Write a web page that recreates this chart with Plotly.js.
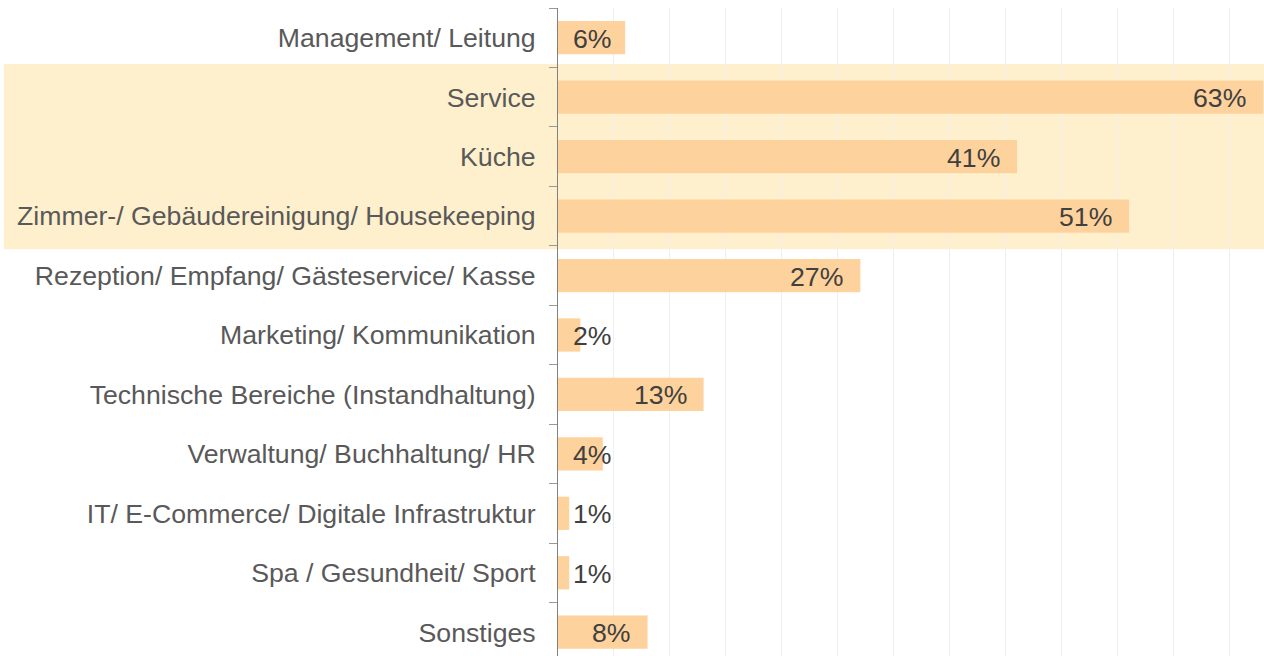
<!DOCTYPE html>
<html>
<head>
<meta charset="utf-8">
<script src="https://cdn.plot.ly/plotly-3.0.1.min.js"></script>
<style>html,body{margin:0;padding:0;background:#fff;}#chart{width:1264px;height:656px;}</style>
</head>
<body>
<div id="chart"></div>
<script>
const categories = [
  "Management/ Leitung",
  "Service",
  "Küche",
  "Zimmer-/ Gebäudereinigung/ Housekeeping",
  "Rezeption/ Empfang/ Gästeservice/ Kasse",
  "Marketing/ Kommunikation",
  "Technische Bereiche (Instandhaltung)",
  "Verwaltung/ Buchhaltung/ HR",
  "IT/ E-Commerce/ Digitale Infrastruktur",
  "Spa / Gesundheit/ Sport",
  "Sonstiges"
];
const values = [6, 63, 41, 51, 27, 2, 13, 4, 1, 1, 8];
const valueLabels = ["6%", "63%", "41%", "51%", "27%", "2%", "13%", "4%", "1%", "1%", "8%"];
const highlighted = ["Service", "Küche", "Zimmer-/ Gebäudereinigung/ Housekeeping"];

const font = "'Liberation Sans', Arial, sans-serif";
const minLabelX = 6.3;

const trace = {
  type: "bar",
  orientation: "h",
  y: categories,
  x: values,
  marker: {color: "#FED29C"},
  hoverinfo: "none"
};

const idx = highlighted.map(c => categories.indexOf(c));
const hiStart = Math.min(...idx), hiEnd = Math.max(...idx);

const annotations = values.map((v, i) => ({
  xref: "x", yref: "y",
  x: Math.max(v, minLabelX),
  y: categories[i],
  text: valueLabels[i],
  showarrow: false,
  xanchor: "right",
  xshift: -15,
  yshift: -1,
  font: {family: font, size: 26.67, color: "#404040"}
}));

const layout = {
  width: 1264, height: 656,
  margin: {l: 558, r: 0, t: 8, b: 0, pad: 0},
  paper_bgcolor: "#ffffff",
  plot_bgcolor: "rgba(0,0,0,0)",
  showlegend: false,
  bargap: 0.44,
  xaxis: {
    range: [0, 63.05],
    dtick: 5,
    showgrid: true,
    gridcolor: "#EFEFEF",
    gridwidth: 1,
    zeroline: false,
    showticklabels: false,
    ticks: "",
    showline: false,
    fixedrange: true
  },
  yaxis: {
    type: "category",
    range: [10.4, -0.5],
    showline: true,
    linecolor: "#808080",
    linewidth: 1,
    ticks: "outside",
    tickson: "boundaries",
    ticklen: 8,
    tickcolor: "#999999",
    tickwidth: 1,
    showgrid: false,
    zeroline: false,
    ticklabelstandoff: 16,
    tickfont: {family: font, size: 26.67, color: "#595959"},
    fixedrange: true
  },
  shapes: [{
    type: "rect",
    xref: "paper", yref: "y",
    x0: -0.785, x1: 1,
    y0: hiStart - 0.56, y1: hiEnd + 0.56,
    fillcolor: "#FFF0CD",
    line: {width: 0},
    layer: "below"
  }],
  annotations: annotations
};

Plotly.newPlot("chart", [trace], layout, {displayModeBar: false, staticPlot: true});
</script>
</body>
</html>
